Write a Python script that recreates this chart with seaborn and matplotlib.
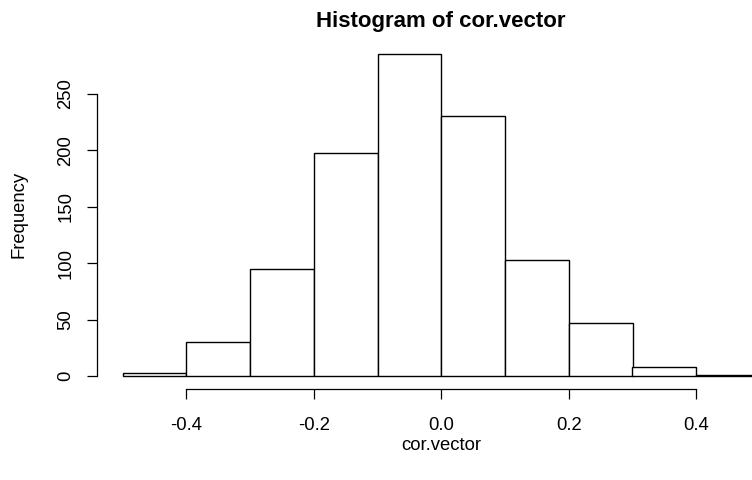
import matplotlib
matplotlib.use("Agg")
import matplotlib.pyplot as plt
import seaborn as sns

bin_edges = [-0.5, -0.4, -0.3, -0.2, -0.1, 0.0, 0.1, 0.2, 0.3, 0.4, 0.5]
counts = [3, 30, 95, 198, 285, 230, 103, 47, 8, 1]
x_ticks = [-0.4, -0.2, 0.0, 0.2, 0.4]
x_tick_labels = ["-0.4", "-0.2", "0.0", "0.2", "0.4"]
y_ticks = [0, 50, 100, 150, 200, 250]
y_tick_labels = ["0", "50", "100", "150", "200", "250"]

sns.set_style("white")
plt.rcParams['font.family'] = ['Liberation Sans', 'DejaVu Sans']
plt.rcParams['text.color'] = 'black'
plt.rcParams['axes.labelcolor'] = 'black'

W, H = 752, 480
fig = plt.figure(figsize=(W / 100, H / 100), dpi=100)
left_px, right_px, bottom_px, top_px = 97, 785.5, 389, 42.6
ax = fig.add_axes([left_px / W, (H - bottom_px) / H,
                   (right_px - left_px) / W, (bottom_px - top_px) / H])

centers = [(bin_edges[i] + bin_edges[i + 1]) / 2 for i in range(len(counts))]
sns.histplot(x=centers, weights=counts, bins=bin_edges, ax=ax,
             color="white", edgecolor="black", linewidth=1.0, alpha=1.0)

ax.set_xlim(-0.54, 0.54)
ax.set_ylim(-11.4, 295.4)
for s in ["top", "right"]:
    ax.spines[s].set_visible(False)
ax.spines["left"].set_bounds(0, 250)
ax.spines["bottom"].set_bounds(-0.4, 0.4)
for s in ["left", "bottom"]:
    ax.spines[s].set_color("black")
    ax.spines[s].set_linewidth(0.9)

ax.set_xticks(x_ticks)
ax.set_xticklabels(x_tick_labels)
ax.set_yticks(y_ticks)
ax.set_yticklabels(y_tick_labels, rotation=90, va="center")
ax.tick_params(axis="both", direction="out", length=7.2, width=0.9,
               color="black", labelsize=13.3, labelcolor="black",
               bottom=True, left=True)
ax.tick_params(axis="x", pad=13)
ax.tick_params(axis="y", pad=9)

ax.set_xlabel("cor.vector", fontsize=13.3, color="black")
ax.xaxis.label.set_va("center")
ax.xaxis.set_label_coords((441 - left_px) / (right_px - left_px),
                          (bottom_px - 445) / (bottom_px - top_px))
ax.set_ylabel("Frequency", fontsize=13.3, color="black")
ax.yaxis.label.set_va("center")
ax.yaxis.set_label_coords((19.5 - left_px) / (right_px - left_px),
                          (bottom_px - 214) / (bottom_px - top_px))
ax.set_title("Histogram of cor.vector", fontsize=16, fontweight="bold",
             color="black",
             x=(441 - left_px) / (right_px - left_px),
             y=(bottom_px - 26.7) / (bottom_px - top_px), va="baseline", pad=0)

fig.savefig("out.png", dpi=100)
